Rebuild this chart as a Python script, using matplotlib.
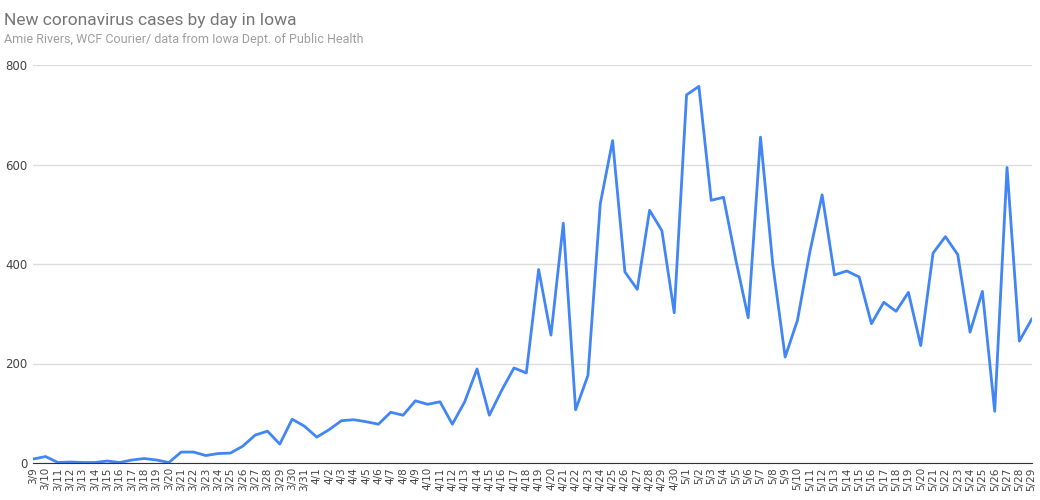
import matplotlib
matplotlib.use("Agg")
import matplotlib.pyplot as plt

dates = [f"3/{d}" for d in range(9, 32)] + [f"4/{d}" for d in range(1, 31)] + [f"5/{d}" for d in range(1, 30)]
cases = [8, 13, 1, 2, 1, 1, 4, 1, 6, 9, 6, 1, 22, 22, 15, 19, 20, 34, 56, 64, 38, 88, 74,
         52, 67, 85, 87, 83, 78, 102, 96, 125, 118, 123, 78, 123, 189, 96, 146, 191, 181,
         389, 257, 482, 107, 176, 521, 648, 384, 349, 508, 467, 302,
         740, 757, 528, 534, 408, 292, 655, 398, 213, 287, 424, 539, 378, 386, 374, 280,
         323, 305, 343, 236, 422, 455, 419, 263, 345, 104, 594, 245, 289]

fig = plt.figure(figsize=(10.4, 5), dpi=100)
ax = fig.add_axes([0.032, 0.074, 0.96, 0.796])
x = range(len(dates))
ax.plot(x, cases, color="#4285F4", linewidth=2)

ax.set_xlim(0, len(dates) - 1)
ax.set_ylim(0, 800)
ax.set_yticks([0, 200, 400, 600, 800])
ax.set_xticks(list(x))
ax.set_xticklabels(dates, rotation=90, fontsize=7.5, color="#444444")
ax.tick_params(axis="y", labelsize=8.5, labelcolor="#444444", length=0, pad=4)
ax.tick_params(axis="x", length=0, pad=3)
ax.grid(axis="y", color="#dddddd", linewidth=1)
for s in ["top", "right", "left"]:
    ax.spines[s].set_visible(False)
ax.spines["bottom"].set_color("#333333")
ax.set_axisbelow(True)
for lab in ax.get_yticklabels():
    lab.set_horizontalalignment("right")

fig.text(0.004, 0.975, "New coronavirus cases by day in Iowa", fontsize=12.5, color="#757575", va="top", family="Roboto")
fig.text(0.004, 0.935, "Amie Rivers, WCF Courier/ data from Iowa Dept. of Public Health", fontsize=9, color="#9e9e9e", va="top", family="Roboto")

fig.savefig("out.png", dpi=100)
